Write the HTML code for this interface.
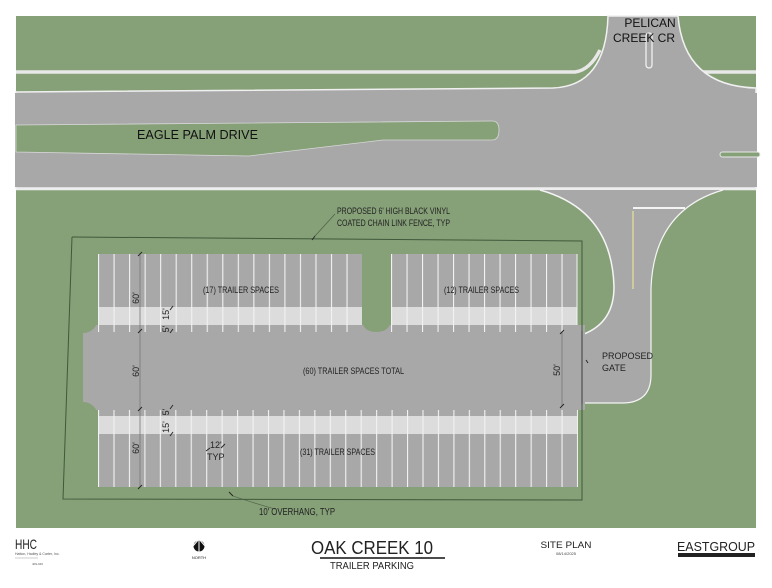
<!DOCTYPE html>
<html><head><meta charset="utf-8"><style>
html,body{margin:0;padding:0;background:#fff;}
svg{display:block;}
text{font-family:"Liberation Sans",sans-serif;}
</style></head><body>
<svg width="772" height="588" viewBox="0 0 772 588" xmlns="http://www.w3.org/2000/svg">
<defs>
<pattern id="pA" x="98" y="0" width="15.53" height="600" patternUnits="userSpaceOnUse"><rect x="0" y="0" width="1.1" height="600" fill="#f2f2f2"/></pattern>
<pattern id="pB" x="391" y="0" width="15.5" height="600" patternUnits="userSpaceOnUse"><rect x="0" y="0" width="1.1" height="600" fill="#f2f2f2"/></pattern>
<pattern id="pC" x="98" y="0" width="15.45" height="600" patternUnits="userSpaceOnUse"><rect x="0" y="0" width="1.1" height="600" fill="#f2f2f2"/></pattern>
</defs>
<!-- green base -->
<rect x="16" y="16" width="740" height="512" fill="#86a078"/>
<!-- sidewalk -->
<path d="M16,72 L575,72 Q590,70 600,50" stroke="#e8e8e8" stroke-width="3.5" fill="none"/>
<path d="M700,72 L756,72" stroke="#e8e8e8" stroke-width="3.5" fill="none"/>
<!-- Pelican Creek road -->
<path d="M608,16 Q606,86 553,88 L16,92 L16,188 L756,188 L756,88 Q684,86 678,16 Z" fill="#a8a8a8" stroke="#f0f0f0" stroke-width="1.5"/>
<rect x="15" y="93" width="742" height="94" fill="#a8a8a8"/>
<!-- Eagle Palm median -->
<path d="M16,125 L492,121 Q499,121 499,130 Q499,140 492,140 L383,140 L249,156 L16,152 Z" fill="#86a078" stroke="#d8d8d8" stroke-width="0.8"/>
<!-- right median stub -->
<rect x="720" y="152" width="40" height="5" rx="2.5" fill="#86a078" stroke="#e8e8e8" stroke-width="1"/>
<!-- pelican median -->
<rect x="646" y="33" width="6" height="35" rx="3" fill="#a8a8a8" stroke="#f0f0f0" stroke-width="1.3"/>
<!-- bottom road edge -->
<line x1="16" y1="189" x2="756" y2="189" stroke="#eeeeee" stroke-width="2.5"/>
<!-- driveway -->
<path d="M540,190 Q612,210 614,287 Q614,322 584,334 L584,403 L622,403 Q651,403 651,375 L651,288 Q654,210 723,190 Z" fill="#a8a8a8"/>
<path d="M540,190 Q612,210 614,287 Q614,322 584,334" stroke="#f4f4f4" stroke-width="1.5" fill="none"/>
<path d="M723,190 Q654,210 651,288 L651,375 Q651,403 622,403 L584,403" stroke="#f4f4f4" stroke-width="1.2" fill="none"/>
<line x1="633" y1="211" x2="633" y2="289" stroke="#d8d69a" stroke-width="1.6"/>
<line x1="633" y1="208" x2="685" y2="208" stroke="#f4f4f4" stroke-width="2"/>
<!-- parking lot -->
<rect x="83" y="325" width="502" height="85" fill="#a8a8a8"/>
<circle cx="83" cy="318" r="15" fill="#86a078"/>
<circle cx="83" cy="417" r="15" fill="#86a078"/>
<rect x="98" y="254" width="264" height="77" fill="#a8a8a8"/>
<rect x="391" y="254" width="186" height="77" fill="#a8a8a8"/>
<path d="M362,254 L391,254 L391,318 Q391,332 376,332 Q362,332 362,318 Z" fill="#86a078"/>
<rect x="98" y="307" width="264" height="18" fill="#dcdcdc"/>
<rect x="391" y="307" width="186" height="18" fill="#dcdcdc"/>
<rect x="98" y="410" width="479" height="77" fill="#a8a8a8"/>
<rect x="98" y="416" width="479" height="18" fill="#dcdcdc"/>
<rect x="98" y="254" width="264" height="78" fill="url(#pA)"/>
<rect x="391" y="254" width="186" height="78" fill="url(#pB)"/>
<rect x="98" y="410" width="480" height="77" fill="url(#pC)"/>
<line x1="577" y1="254" x2="577" y2="325" stroke="#f2f2f2" stroke-width="1"/>
<!-- fence -->
<path d="M72,237 L582,241 L582,331" stroke="#3f5a3a" stroke-width="1" fill="none"/>
<path d="M72,237 L63,499 L582,500 L582,404" stroke="#3f5a3a" stroke-width="1" fill="none"/>
<line x1="582" y1="331" x2="582" y2="404" stroke="#555" stroke-width="1.3"/>
<!-- dims -->
<line x1="140" y1="254" x2="140" y2="487" stroke="#777" stroke-width="0.8"/>
<line x1="562" y1="332" x2="562" y2="406" stroke="#777" stroke-width="0.8"/>
<g stroke="#222" stroke-width="0.9">
<line x1="138" y1="256" x2="142" y2="252"/><line x1="138" y1="333" x2="142" y2="329"/>
<line x1="138" y1="411" x2="142" y2="407"/><line x1="138" y1="489" x2="142" y2="485"/>
<line x1="170" y1="310" x2="173" y2="306"/><line x1="170" y1="333" x2="173" y2="329"/>
<line x1="170" y1="409" x2="173" y2="405"/><line x1="170" y1="436" x2="173" y2="432"/>
<line x1="560" y1="334" x2="564" y2="330"/><line x1="560" y1="408" x2="564" y2="404"/>
<line x1="206" y1="451" x2="210" y2="448"/><line x1="221" y1="448" x2="225" y2="444"/>
<line x1="229" y1="492" x2="233" y2="496"/><line x1="312" y1="240" x2="315" y2="236"/>
<line x1="586" y1="360" x2="588" y2="363"/>
</g>
<path d="M315,236 L335,214" stroke="#4a5a44" stroke-width="0.6" fill="none"/>
<path d="M233,496 Q260,505 275,509" stroke="#4a5a44" stroke-width="0.6" fill="none"/>
<!-- labels -->
<text x="137" y="69" font-size="13" fill="#111" text-anchor="start" transform="translate(0,0)"></text>
<text x="137" y="139" font-size="13" fill="#111" textLength="121" lengthAdjust="spacingAndGlyphs">EAGLE PALM DRIVE</text>
<text x="650" y="27" font-size="12" fill="#111" text-anchor="middle">PELICAN</text>
<text x="644" y="42" font-size="12" fill="#111" text-anchor="middle">CREEK CR</text>
<g font-size="9" fill="#222">
<text x="337" y="214" textLength="113" lengthAdjust="spacingAndGlyphs">PROPOSED 6' HIGH BLACK VINYL</text>
<text x="337" y="226" textLength="113" lengthAdjust="spacingAndGlyphs">COATED CHAIN LINK FENCE, TYP</text>
<text x="203" y="293" textLength="76" lengthAdjust="spacingAndGlyphs">(17) TRAILER SPACES</text>
<text x="444" y="293" textLength="75" lengthAdjust="spacingAndGlyphs">(12) TRAILER SPACES</text>
<text x="303" y="374" textLength="101" lengthAdjust="spacingAndGlyphs">(60) TRAILER SPACES TOTAL</text>
<text x="300" y="455" textLength="75" lengthAdjust="spacingAndGlyphs">(31) TRAILER SPACES</text>
<text x="210" y="448">12'</text>
<text x="207" y="460">TYP</text>
<text x="259" y="515" font-size="10" textLength="76" lengthAdjust="spacingAndGlyphs">10' OVERHANG, TYP</text>
<text x="602" y="359">PROPOSED</text>
<text x="602" y="371">GATE</text>
<text transform="translate(139,298) rotate(-90)" text-anchor="middle">60'</text>
<text transform="translate(139,371) rotate(-90)" text-anchor="middle">60'</text>
<text transform="translate(139,448) rotate(-90)" text-anchor="middle">60'</text>
<text transform="translate(560,370) rotate(-90)" text-anchor="middle">50'</text>
<text transform="translate(169,314) rotate(-90)" text-anchor="middle">15'</text>
<text transform="translate(169,329) rotate(-90)" text-anchor="middle">5'</text>
<text transform="translate(169,412) rotate(-90)" text-anchor="middle">5'</text>
<text transform="translate(169,427) rotate(-90)" text-anchor="middle">15'</text>
</g>
<!-- title block -->
<text x="15" y="549" font-size="14" fill="#222" textLength="22" lengthAdjust="spacingAndGlyphs">HHC</text>
<text x="15" y="555" font-size="3.5" fill="#555">Hatton, Hadley &amp; Carter, Inc.</text>
<line x1="15" y1="558" x2="38" y2="558" stroke="#999" stroke-width="0.6"/>
<text x="32" y="565" font-size="3" fill="#555">409-040</text>
<circle cx="199" cy="546" r="5.5" fill="#111"/>
<path d="M199,539 L193,546 M199,539 L205,546 M199,539 L199,553" stroke="#fff" stroke-width="1" fill="none"/>
<text x="199" y="559" font-size="4" fill="#222" text-anchor="middle">NORTH</text>
<text x="372" y="554" font-size="18" fill="#222" text-anchor="middle" textLength="122" lengthAdjust="spacingAndGlyphs">OAK CREEK 10</text>
<line x1="320" y1="558" x2="445" y2="558" stroke="#333" stroke-width="1.8"/>
<text x="372" y="569" font-size="10.5" fill="#222" text-anchor="middle" textLength="84" lengthAdjust="spacingAndGlyphs">TRAILER PARKING</text>
<text x="566" y="548" font-size="9.5" fill="#222" text-anchor="middle" textLength="51" lengthAdjust="spacingAndGlyphs">SITE PLAN</text>
<text x="566" y="555" font-size="4" fill="#444" text-anchor="middle">08/14/2025</text>
<text x="677" y="551" font-family="Liberation Serif,serif" font-size="13" fill="#222" textLength="78" lengthAdjust="spacingAndGlyphs">EASTGROUP</text>
<rect x="678" y="553" width="77" height="4" fill="#222"/>
</svg>
</body></html>
